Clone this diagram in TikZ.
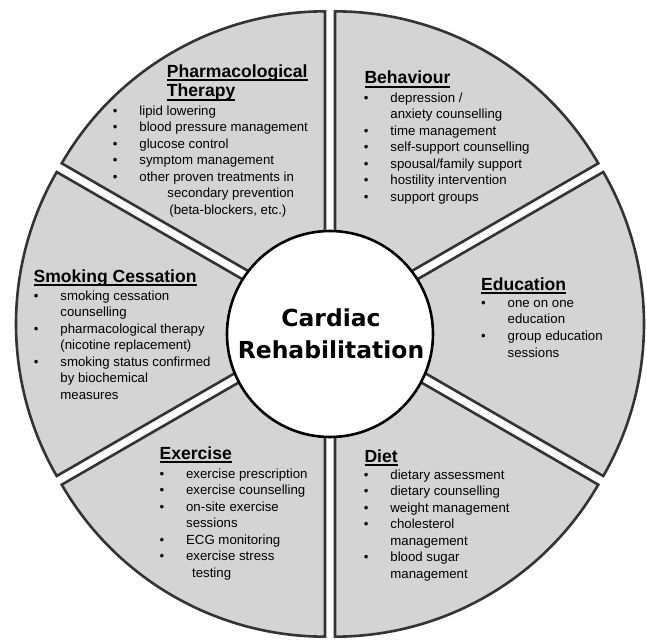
\documentclass[tikz,border=0pt]{standalone}
\usepackage{fontspec}
\setmainfont{Liberation Sans}
\newfontfamily\hubfont{DejaVu Sans}
\usepackage{tikz}
\newlength{\px}
\setlength{\px}{0.03cm}
\newcommand{\itembul}{\makebox[26.5\px][l]{\textbullet}}
\newcommand{\contind}[1][26.5]{\hspace*{#1\px}}
\newcommand{\headul}[1]{\setbox0\hbox{#1}\rlap{\rule[-4\px]{\wd0}{1.8\px}}\box0}
\definecolor{sectorgray}{HTML}{D4D4D4}
\definecolor{edgegray}{HTML}{333333}

\begin{document}
\begin{tikzpicture}[x=0.03cm,y=0.03cm,
  sector/.style={fill=sectorgray,draw=edgegray,line width=2.6\px},
  head/.style={anchor=base west,inner sep=0pt,align=left,font=\bfseries\fontsize{15}{17.06}\selectfont},
  items/.style={anchor=base west,inner sep=0pt,align=left,font=\fontsize{11.3}{14.1}\selectfont}]
\useasboundingbox (-330,-316) rectangle (316,324);
\foreach \b in {0,60,...,300}
  \draw[sector] (\b:10) -- ++(\b-30:304) arc[start angle=\b-30,end angle=\b+30,radius=304] -- cycle;
\draw[fill=white,line width=2.6\px] (0,-10) circle (103);
% multi-line nodes sit on the baseline of their last line
\node[align=center,inner sep=0pt,anchor=base,font=\hubfont\bfseries\fontsize{20}{27.3}\selectfont] (hub) at (1,-34) {Cardiac\\Rehabilitation};

\node[head] (phT) at (-163.3,227) {\headul{Pharmacological}\\\headul{Therapy}};
\node[items] (phL) at (-217.3,109.5) {\itembul lipid lowering\\\itembul blood pressure management\\\itembul glucose control\\\itembul symptom management\\\itembul other proven treatments in\\\contind[54.5]secondary prevention\\\contind[56.5](beta-blockers, etc.)};

\node[head] (beT) at (34.3,240) {\headul{Behaviour}};
\node[items] (beL) at (33.7,122.5) {\itembul depression /\\\contind anxiety counselling\\\itembul time management\\\itembul self-support counselling\\\itembul spousal/family support\\\itembul hostility intervention\\\itembul support groups};

\node[head] (edT) at (151,34) {\headul{Education}};
\node[items] (edL) at (151,-33) {\itembul one on one\\\contind education\\\itembul group education\\\contind sessions};

\node[head] (smT) at (-296.7,42) {\headul{Smoking Cessation}};
\node[items] (smL) at (-296.3,-75.5) {\itembul smoking cessation\\\contind counselling\\\itembul pharmacological therapy\\\contind (nicotine replacement)\\\itembul smoking status confirmed\\\contind by biochemical\\\contind measures};

\node[head] (exT) at (-170.7,-135) {\headul{Exercise}};
\node[items] (exL) at (-170.6,-253.5) {\itembul exercise prescription\\\itembul exercise counselling\\\itembul on-site exercise\\\contind sessions\\\itembul ECG monitoring\\\itembul exercise stress\\\contind[32.5]testing};

\node[head] (diT) at (34.3,-138) {\headul{Diet}};
\node[items] (diL) at (33.7,-254.5) {\itembul dietary assessment\\\itembul dietary counselling\\\itembul weight management\\\itembul cholesterol\\\contind management\\\itembul blood sugar\\\contind management};
\end{tikzpicture}
\end{document}
